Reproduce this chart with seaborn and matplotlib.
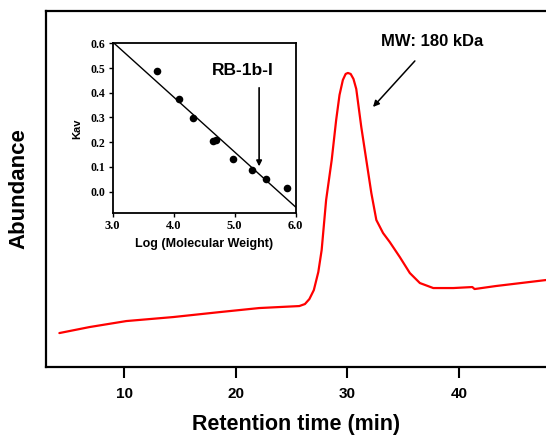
import matplotlib
matplotlib.use("Agg")
import matplotlib.pyplot as plt
import pandas as pd
import seaborn as sns

# Chromatogram trace (retention time in min, abundance in arbitrary units)
rt_min = [4.2, 6.9, 10.2, 14.4, 18.6, 22.1, 25.7, 26.2, 26.6, 27.0, 27.4, 27.7,
          28.1, 28.6, 29.0, 29.3, 29.6, 29.85, 30.05, 30.3, 30.55, 30.8, 31.25,
          31.7, 32.15, 32.6, 33.2, 33.8, 34.7, 35.6, 36.5, 37.7, 39.5, 41.2,
          41.4, 43.3, 44.8, 47.8]
abundance = [34, 40, 46, 50, 55, 59, 61, 63, 68, 77, 95, 117,
             167, 207, 247, 272, 287, 293, 294, 293, 288, 278, 240,
             207, 174, 147, 134, 125, 110, 94, 84, 79, 79, 80,
             78, 81, 83, 87]

# Calibration inset: log MW vs Kav
log_mw = [3.72, 4.08, 4.31, 4.65, 4.70, 4.97, 5.28, 5.51, 5.86]
kav = [0.489, 0.376, 0.299, 0.206, 0.210, 0.132, 0.088, 0.052, 0.014]

main_xticks = [10, 20, 30, 40]
inset_xticks = [3.0, 4.0, 5.0, 6.0]
inset_yticks = [0.0, 0.1, 0.2, 0.3, 0.4, 0.5, 0.6]

trace = pd.DataFrame({"rt": rt_min, "abund": abundance})
calib = pd.DataFrame({"logmw": log_mw, "kav": kav})

sns.set_theme(style="white")
plt.rcParams["font.family"] = ["Liberation Sans", "DejaVu Sans"]
plt.rcParams.update({"text.color": "black", "axes.labelcolor": "black",
                     "xtick.color": "black", "ytick.color": "black"})

fig = plt.figure(figsize=(5.46, 4.37), dpi=100)
ax = fig.add_axes([0.0842, 0.160, 0.9158, 0.815])

sns.lineplot(data=trace, x="rt", y="abund", color="red", linewidth=1.6, ax=ax)
ax.set_xlim(3, 47.8)
ax.set_ylim(0, 356)
ax.set_xticks(main_xticks)
ax.set_xticklabels([str(t) for t in main_xticks], fontsize=11, fontweight="bold")
ax.set_yticks([])
ax.tick_params(axis="x", direction="out", length=8, width=1.5, bottom=True, pad=6)
for side in ["left", "bottom", "top"]:
    ax.spines[side].set_color("black")
    ax.spines[side].set_linewidth(1.6)
ax.spines["right"].set_visible(False)
ax.set_xlabel("Retention time (min)", fontsize=15.5, fontweight="bold", labelpad=10)
ax.set_ylabel("Abundance", fontsize=16, fontweight="bold", labelpad=12)

ax.annotate("MW: 180 kDa", xy=(32.3, 260), xytext=(37.6, 325),
            ha="center", va="center", fontsize=12, fontweight="bold",
            arrowprops=dict(arrowstyle="-|>", color="black", lw=1.1,
                            mutation_scale=9, shrinkA=8, shrinkB=0))

# Inset calibration plot
axin = fig.add_axes([0.2064, 0.5119, 0.3352, 0.389])
axin.set_xlim(3.0, 6.0)
axin.set_ylim(-0.088, 0.6)
sns.regplot(data=calib, x="logmw", y="kav", ci=None, truncate=False, ax=axin,
            color="black", scatter_kws=dict(s=30, alpha=1, linewidths=0, zorder=3),
            line_kws=dict(linewidth=1.0))
axin.set_xlim(3.0, 6.0)
axin.set_ylim(-0.088, 0.6)
axin.set_xticks(inset_xticks)
axin.set_xticklabels([f"{t:.1f}" for t in inset_xticks], fontsize=9,
                     fontweight="bold", family="Liberation Serif")
axin.set_yticks(inset_yticks)
axin.set_yticklabels([f"{t:.1f}" for t in inset_yticks], fontsize=8.5,
                     fontweight="bold", family="Liberation Serif")
axin.minorticks_on()
axin.tick_params(axis="both", which="major", direction="out", length=3, width=1, pad=2)
axin.tick_params(axis="x", which="minor", direction="out", length=2, width=0.8)
axin.tick_params(axis="y", which="minor", left=False)
axin.tick_params(left=True, bottom=True)
for side in axin.spines.values():
    side.set_color("black")
    side.set_linewidth(1.3)
axin.set_xlabel("Log (Molecular Weight)", fontsize=9, fontweight="bold", labelpad=4)
axin.set_ylabel("Kav", fontsize=8, fontweight="bold", labelpad=6)

axin.text(5.14, 0.49, "RB-1b-I", ha="center", va="center",
          fontsize=12.5, fontweight="bold")
axin.annotate("", xy=(5.40, 0.102), xytext=(5.40, 0.42),
              arrowprops=dict(arrowstyle="-|>", color="black", lw=1.2,
                              mutation_scale=8, shrinkA=0, shrinkB=0))

fig.savefig("out.png", dpi=100)
